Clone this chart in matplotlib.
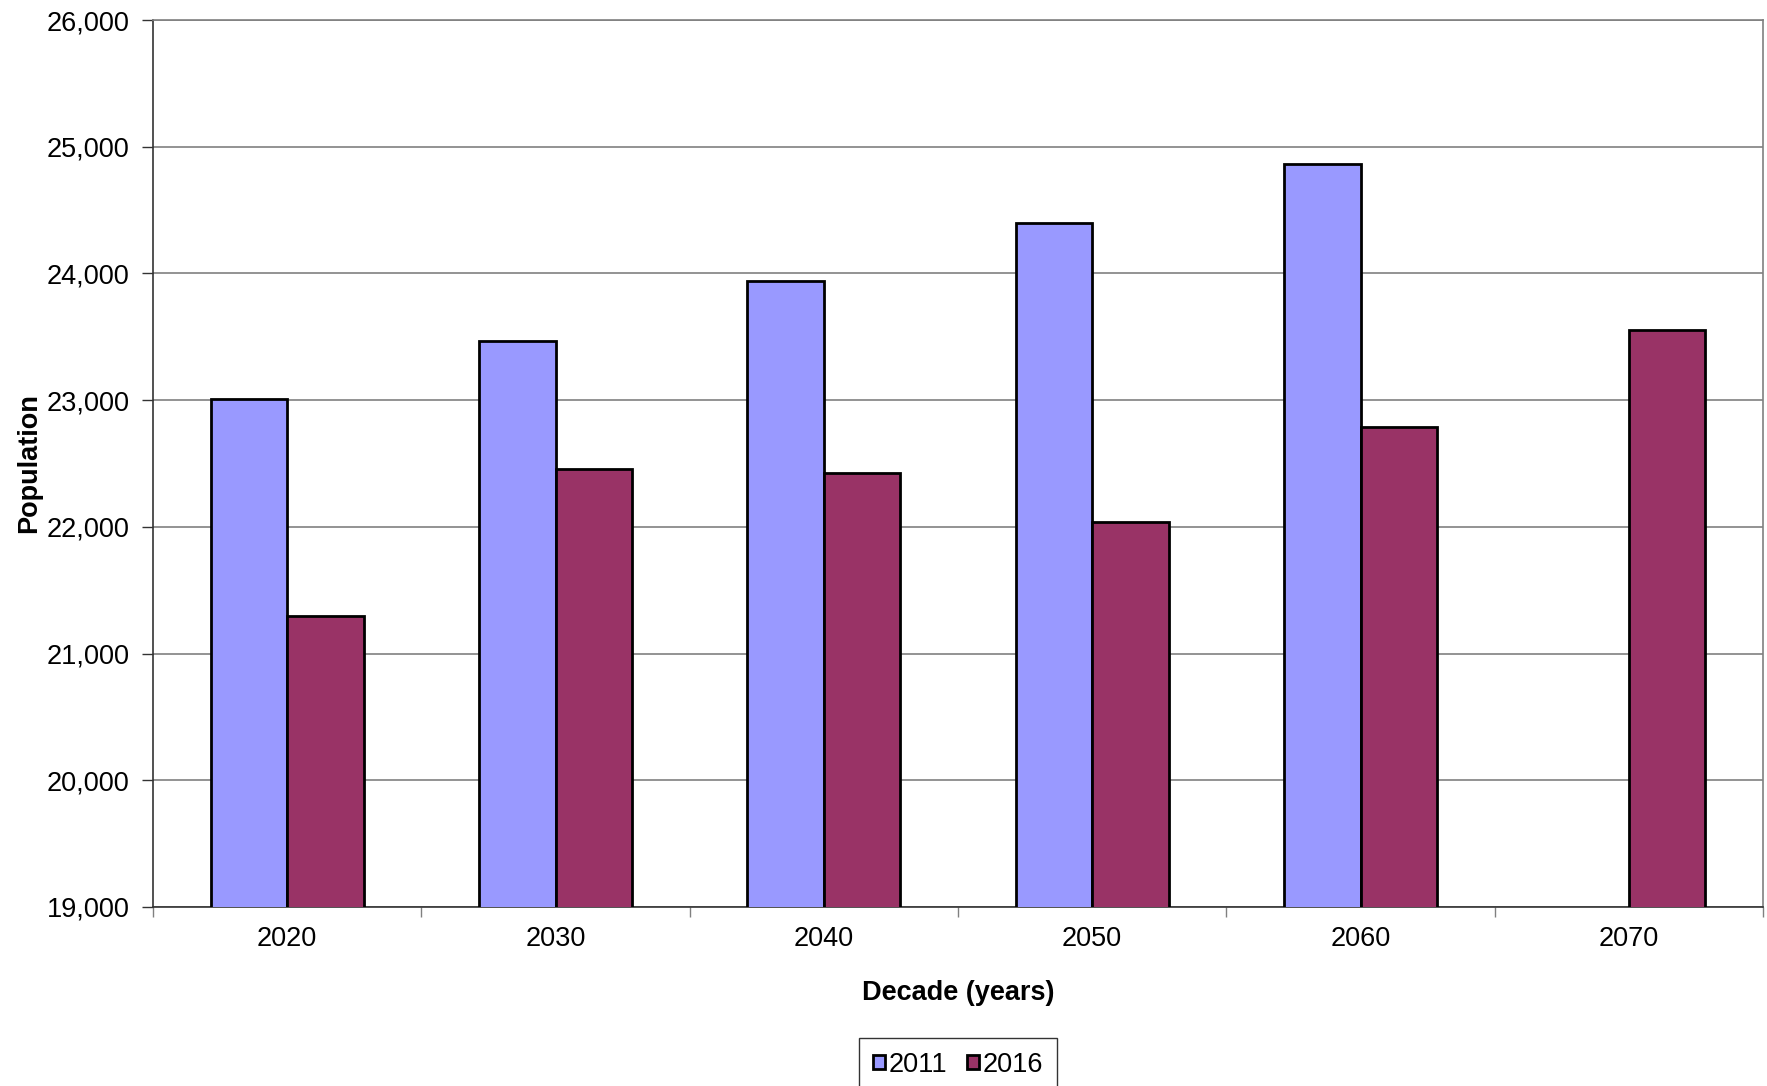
import numpy as np
import matplotlib.pyplot as plt
from matplotlib.ticker import FuncFormatter, FixedLocator

plt.rcParams['font.family'] = ['Liberation Sans', 'DejaVu Sans']

decades = ['2020', '2030', '2040', '2050', '2060', '2070']
pop_2011 = [23010, 23466, 23941, 24396, 24862, np.nan]
pop_2016 = [21297, 22455, 22428, 22041, 22786, 23552]
series_names = ['2011', '2016']

fig = plt.figure(figsize=(17.67, 10.86), dpi=100)
ax = fig.add_axes([153 / 1767, 1 - 907 / 1086, 1610 / 1767, 887 / 1086])

x = np.arange(len(decades))
width = 0.2857
ax.bar(x - width / 2, pop_2011, width, color='#9999FF',
       edgecolor='black', linewidth=2.0, label=series_names[0], zorder=3)
ax.bar(x + width / 2, pop_2016, width, color='#993366',
       edgecolor='black', linewidth=2.0, label=series_names[1], zorder=3)

ax.set_xlim(-0.5, len(decades) - 0.5)
ax.set_ylim(19000, 26000)
ax.set_yticks(np.arange(19000, 26001, 1000))
ax.yaxis.set_major_formatter(FuncFormatter(lambda v, p: f'{int(v):,}'))
ax.yaxis.grid(True, color='#808080', linewidth=1.2, zorder=0)

ax.set_xticks(x)
ax.set_xticklabels(decades)
ax.xaxis.set_minor_locator(FixedLocator(np.arange(-0.5, len(decades), 1.0)))
ax.tick_params(axis='x', which='major', length=0, pad=14, labelsize=19.5)
ax.tick_params(axis='x', which='minor', length=7, width=1, color='#808080', direction='out')
ax.tick_params(axis='y', length=8, width=1, color='#333333', labelsize=19.5, pad=9)

for side in ['top', 'right']:
    ax.spines[side].set_color('#808080')
    ax.spines[side].set_linewidth(1.2)
for side in ['left', 'bottom']:
    ax.spines[side].set_color('#333333')
    ax.spines[side].set_linewidth(1.2)

ax.set_xlabel('Decade (years)', fontsize=19.5, fontweight='bold', labelpad=20)
ax.set_ylabel('Population', fontsize=19.5, fontweight='bold', labelpad=3)

leg = fig.legend(loc='upper center', bbox_to_anchor=(958 / 1767, 1 - 1038 / 1086),
                 ncol=2, fontsize=19.5, frameon=True, fancybox=False,
                 handlelength=0.45, handleheight=0.45, handletextpad=0.15,
                 columnspacing=0.7, borderpad=0.5, borderaxespad=0,
                 edgecolor='black')
leg.get_frame().set_linewidth(1.0)
for h in leg.legend_handles:
    h.set_linewidth(2.0)

fig.savefig('out.png', dpi=100)
